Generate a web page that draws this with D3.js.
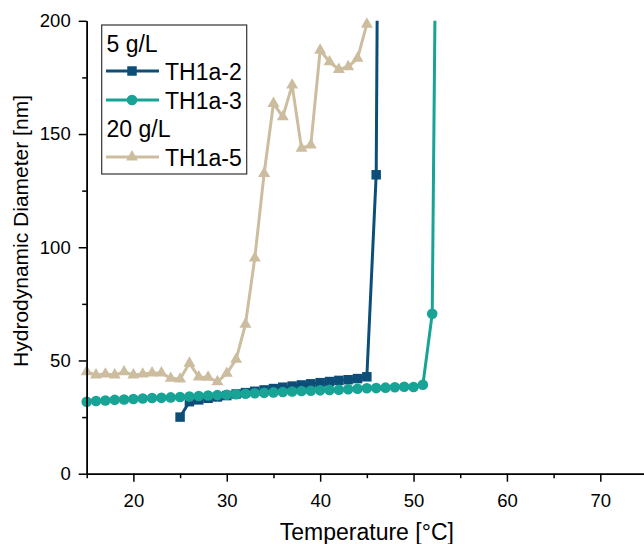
<!DOCTYPE html>
<html><head><meta charset="utf-8">
<script src="https://cdn.jsdelivr.net/npm/d3@7"></script>
<style>
body{margin:0;background:#fff}
svg{display:block}
text{font-family:"Liberation Sans",Arial,sans-serif;fill:#000}
</style>
</head><body>
<svg id="c" width="644" height="544"></svg>
<script>
// ---- data ----
const xDomain = [15, 75];
const yDomain = [0, 200];
const xTicks = [20, 30, 40, 50, 60, 70];
const xMinor = [15, 25, 35, 45, 55, 65, 75];
const yTicks = [0, 50, 100, 150, 200];
const yMinor = [25, 75, 125, 175];
const xTitle = "Temperature [°C]";
const yTitle = "Hydrodynamic Diameter [nm]";
const groupLabels = ["5 g/L", "20 g/L"];
const seriesNames = ["TH1a-2", "TH1a-3", "TH1a-5"];

const th2Temp = [25,26,27,28,29,30,31,32,33,34,35,36,37,38,39,40,41,42,43,44,45,46,47];
const th2Dia  = [25.0,31.8,32.6,33.3,33.9,34.5,35.2,35.8,36.4,37.0,37.6,38.2,38.7,39.2,39.7,40.2,40.7,41.2,41.5,42.0,42.8,132,800];

const th3Temp = [15,16,17,18,19,20,21,22,23,24,25,26,27,28,29,30,31,32,33,34,35,36,37,38,39,40,41,42,43,44,45,46,47,48,49,50,51,52,53];
const th3Dia  = [31.8,32.1,32.3,32.6,32.8,33.0,33.2,33.4,33.5,33.7,33.9,34.1,34.3,34.5,34.7,34.9,35.1,35.3,35.5,35.7,35.9,36.1,36.3,36.5,36.6,36.8,37.0,37.1,37.3,37.5,37.7,37.8,38.0,38.2,38.4,38.3,39.3,70.6,520];

const th5Temp = [15,16,17,18,19,20,21,22,23,24,25,26,27,28,29,30,31,32,33,34,35,36,37,38,39,40,41,42,43,44,45];
const th5Dia  = [45.0,43.6,44.0,43.6,45.0,43.6,44.0,44.5,44.5,42.1,41.8,48.8,42.7,42.6,40.6,44.3,50.5,66.0,95.2,132.6,163.5,157.6,171.6,143.7,145.1,187.0,181.9,178.5,179.7,183.4,198.5];

const colors = ["#0d4e78", "#17a395", "#cdbd9f"];

// ---- setup ----
const svg = d3.select("#c");
const x = d3.scaleLinear().domain(xDomain).range([86.7, 647]);
const y = d3.scaleLinear().domain(yDomain).range([473.7, 20.8]);

svg.append("defs").append("clipPath").attr("id","plot")
  .append("rect").attr("x", x(15)).attr("y", y(200))
  .attr("width", x(75)-x(15)).attr("height", y(0)-y(200));

const series = [
  {name: seriesNames[0], t: th2Temp, v: th2Dia, color: colors[0], sym: d3.symbolSquare, size: 90},
  {name: seriesNames[1], t: th3Temp, v: th3Dia, color: colors[1], sym: d3.symbolCircle, size: 88},
  {name: seriesNames[2], t: th5Temp, v: th5Dia, color: colors[2], sym: d3.symbolTriangle, size: 62}
];

const line = d3.line().x(d => x(d[0])).y(d => y(d[1]));

series.forEach(s => {
  const pts = s.t.map((t, i) => [t, s.v[i]]);
  const g = svg.append("g");
  g.append("path").datum(pts).attr("d", line)
    .attr("fill","none").attr("stroke", s.color).attr("stroke-width", 3)
    .attr("stroke-linejoin","round")
    .attr("clip-path","url(#plot)");
  g.selectAll("path.m").data(pts.filter(d => d[1] <= yDomain[1])).join("path")
    .attr("class","m")
    .attr("d", d3.symbol().type(s.sym).size(s.size))
    .attr("transform", d => `translate(${x(d[0])},${y(d[1])})`)
    .attr("fill", s.color);
});

// ---- axes ----
const fs = 18.5;
const xa = svg.append("g").attr("transform", `translate(0,${y(0)})`)
  .call(d3.axisBottom(x).tickValues(xTicks).tickSize(8).tickSizeOuter(0).tickPadding(12.3));
const xm = svg.append("g").attr("transform", `translate(0,${y(0)})`)
  .call(d3.axisBottom(x).tickValues(xMinor).tickSize(4.5).tickSizeOuter(0).tickFormat(""));
const ya = svg.append("g").attr("transform", `translate(${x(15)},0)`)
  .call(d3.axisLeft(y).tickValues(yTicks).tickSize(8).tickSizeOuter(0).tickPadding(8));
const ym = svg.append("g").attr("transform", `translate(${x(15)},0)`)
  .call(d3.axisLeft(y).tickValues(yMinor).tickSize(4.5).tickSizeOuter(0).tickFormat(""));
[xa, xm, ya, ym].forEach(a => {
  a.selectAll("path,line").attr("stroke","#000").attr("stroke-width",1.5);
  a.selectAll("text").attr("font-size", fs).attr("fill","#000")
    .style("font-family",'"Liberation Sans",Arial,sans-serif');
});

svg.append("text").attr("x", (x(15)+x(75))/2).attr("y", 540)
  .attr("text-anchor","middle").attr("font-size", 23).text(xTitle);
svg.append("text").attr("transform", "translate(28,231) rotate(-90)")
  .attr("text-anchor","middle").attr("font-size", 21).text(yTitle);

// ---- legend ----
const lg = svg.append("g");
lg.append("rect").attr("x", 101.7).attr("y", 25).attr("width", 145).attr("height", 149)
  .attr("fill","#fff").attr("stroke","#333").attr("stroke-width",1.2);
const lfs = 23;
lg.append("text").attr("x",106.5).attr("y",51.7).attr("font-size",lfs).text(groupLabels[0]);
lg.append("text").attr("x",106.5).attr("y",137.3).attr("font-size",lfs).text(groupLabels[1]);
const rows = [{s: series[0], ly: 71, ty: 80}, {s: series[1], ly: 100, ty: 108.5}, {s: series[2], ly: 157, ty: 166}];
rows.forEach(r => {
  lg.append("line").attr("x1",106).attr("x2",159).attr("y1",r.ly).attr("y2",r.ly)
    .attr("stroke", r.s.color).attr("stroke-width",3);
  lg.append("path").attr("d", d3.symbol().type(r.s.sym).size(r.s.size))
    .attr("transform", `translate(132,${r.ly})`).attr("fill", r.s.color);
  lg.append("text").attr("x",165).attr("y",r.ty).attr("font-size",lfs).text(r.s.name);
});
</script>
</body></html>
